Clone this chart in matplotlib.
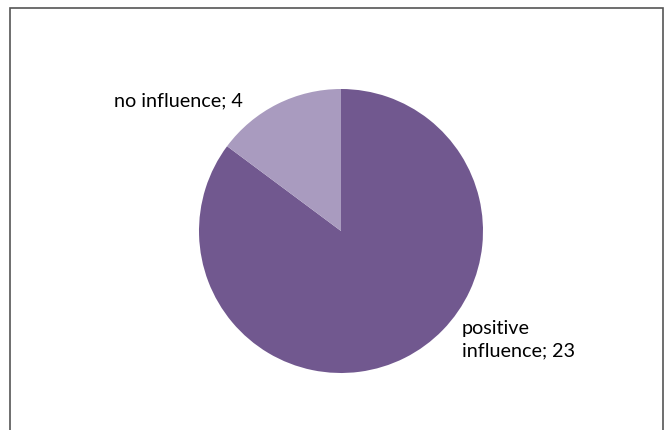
import matplotlib.pyplot as plt
from matplotlib.patches import Rectangle

categories = ["positive\ninfluence", "no influence"]
counts = [23, 4]
colours = ["#71588f", "#a99bbf"]

W, H = 669, 430
cx, cy, r = 341, 231, 142

fig = plt.figure(figsize=(W / 100, H / 100), dpi=100)
ax = fig.add_axes([(cx - r) / W, (H - cy - r) / H, 2 * r / W, 2 * r / H])

ax.pie(
    counts,
    colors=colours,
    startangle=90,
    counterclock=False,
    radius=1,
    wedgeprops=dict(linewidth=0),
)
ax.set_xlim(-1, 1)
ax.set_ylim(-1, 1)
ax.set_aspect("equal")
ax.axis("off")

font = ["Lato", "DejaVu Sans"]

# label positions in pie units
ax.text((243 - cx) / r, (cy - 101) / r,
        f"{categories[1]}; {counts[1]}",
        ha="right", va="center", fontsize=14.2, family=font, clip_on=False)
ax.text((462 - cx) / r, (cy - 340) / r,
        f"{categories[0]}; {counts[0]}",
        ha="left", va="center", fontsize=14.2, family=font,
        linespacing=1.38, clip_on=False)

border = Rectangle((10 / W, -0.05), (663 - 10) / W, (H - 8) / H + 0.05,
                   transform=fig.transFigure, fill=False,
                   edgecolor="#555555", linewidth=1.2, clip_on=False)
fig.patches.append(border)

fig.savefig("out.png", dpi=100)
